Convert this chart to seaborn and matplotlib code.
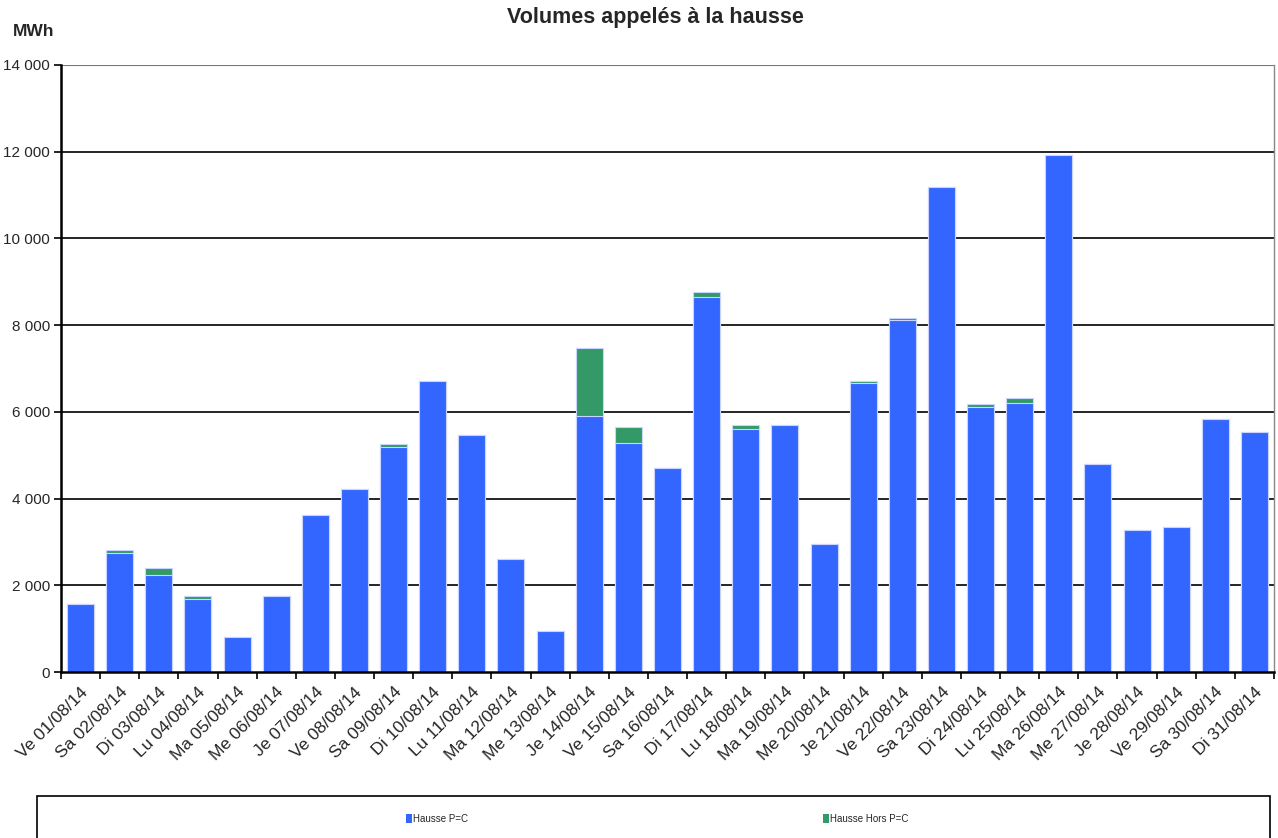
import matplotlib
matplotlib.use("Agg")
import matplotlib.pyplot as plt
import seaborn as sns
import pandas as pd
import numpy as np
from matplotlib.ticker import FuncFormatter, FixedLocator
from matplotlib.patches import Rectangle, Patch

dates = ["Ve 01/08/14", "Sa 02/08/14", "Di 03/08/14", "Lu 04/08/14", "Ma 05/08/14",
         "Me 06/08/14", "Je 07/08/14", "Ve 08/08/14", "Sa 09/08/14", "Di 10/08/14",
         "Lu 11/08/14", "Ma 12/08/14", "Me 13/08/14", "Je 14/08/14", "Ve 15/08/14",
         "Sa 16/08/14", "Di 17/08/14", "Lu 18/08/14", "Ma 19/08/14", "Me 20/08/14",
         "Je 21/08/14", "Ve 22/08/14", "Sa 23/08/14", "Di 24/08/14", "Lu 25/08/14",
         "Ma 26/08/14", "Me 27/08/14", "Je 28/08/14", "Ve 29/08/14", "Sa 30/08/14",
         "Di 31/08/14"]
hausse_pc = [1575, 2740, 2230, 1680, 815, 1745, 3630, 4225, 5190, 6705,
             5460, 2610, 950, 5905, 5280, 4705, 8640, 5595, 5700, 2950,
             6665, 8110, 11187, 6115, 6215, 11915, 4805, 3280, 3350, 5840, 5534]
hausse_hors_pc = [0, 75, 175, 75, 0, 0, 0, 0, 60, 0,
                  0, 0, 0, 1570, 380, 0, 135, 105, 0, 0,
                  45, 45, 0, 70, 115, 0, 0, 0, 0, 0, 0]
yticks = [0, 2000, 4000, 6000, 8000, 10000, 12000, 14000]

BLUE = "#3366FF"
GREEN = "#339966"

sns.set_theme(style="white")
plt.rcParams["font.family"] = ["Liberation Sans", "DejaVu Sans"]

df = pd.DataFrame({"date": dates, "pc": hausse_pc, "hors": hausse_hors_pc})
df["total"] = df["pc"] + df["hors"]

fig = plt.figure(figsize=(12.78, 8.38), dpi=100)
ax = fig.add_axes([61/1278, 1-672/838, (1274-61)/1278, (672-65)/838])

sns.barplot(data=df, x="date", y="total", color=GREEN, saturation=1, width=0.69,
            edgecolor="#C8D6FF", linewidth=0.8, ax=ax)
sns.barplot(data=df, x="date", y="pc", color=BLUE, saturation=1, width=0.69,
            edgecolor="#C8D6FF", linewidth=0.8, ax=ax)

ax.set_xlim(-0.5, len(dates) - 0.5)
ax.set_ylim(0, 14000)
ax.set_yticks(yticks)
ax.yaxis.set_major_formatter(FuncFormatter(lambda v, p: f"{int(v):,}".replace(",", " ")))
for y in yticks[1:-1]:
    ax.axhline(y, color="black", lw=1.2, zorder=0)
ax.axhline(14000, color="#777777", lw=1.5, zorder=0)

ax.set_xlabel("")
ax.set_ylabel("")
ax.set_xticks(range(len(dates)))
ax.set_xticklabels(dates, rotation=45, ha="right", rotation_mode="anchor", fontsize=12.5)
ax.tick_params(axis="x", which="major", length=0, pad=9)
ax.xaxis.set_minor_locator(FixedLocator(np.arange(-0.5, len(dates), 1.0)))
ax.tick_params(axis="x", which="minor", length=5, width=1.2, color="black", direction="out", bottom=True)
ax.tick_params(axis="y", length=5, width=1.2, color="black", direction="out", left=True, labelsize=11, pad=3)

for s in ["left", "bottom"]:
    ax.spines[s].set_color("black")
    ax.spines[s].set_linewidth(1.8)
ax.spines["top"].set_visible(False)
ax.spines["right"].set_color("#888888")
ax.spines["right"].set_linewidth(1.0)

fig.text(655/1278, 1-18/838, "Volumes appelés à la hausse", ha="center", va="center",
         fontsize=15.5, fontweight="bold")
fig.text(13/1278, 1-32/838, "MWh", ha="left", va="center", fontsize=12.5, fontweight="bold")

fig.patches.append(Rectangle((37/1278, -0.01), (1270-37)/1278, (838-796)/838 + 0.01,
                             transform=fig.transFigure, fill=False, edgecolor="black", lw=1.2))
handles = [Patch(facecolor=BLUE, edgecolor="none", label="Hausse P=C"),
           Patch(facecolor=GREEN, edgecolor="none", label="Hausse Hors P=C")]
fig.legend(handles=handles, loc="center", bbox_to_anchor=(657/1278, 1-819/838), ncol=2,
           frameon=False, fontsize=7, handlelength=0.6, handleheight=1.0, handletextpad=0.1,
           columnspacing=36.5)

fig.savefig("out.png", dpi=100)
